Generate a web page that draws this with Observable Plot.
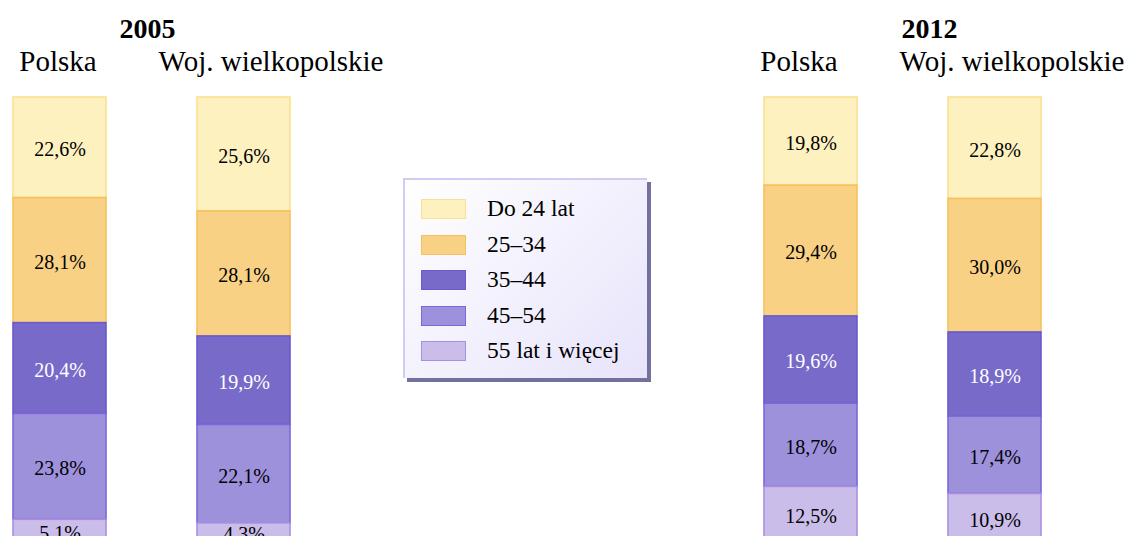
<!DOCTYPE html>
<html>
<head>
<meta charset="utf-8">
<script src="https://cdn.jsdelivr.net/npm/d3@7"></script>
<script src="https://cdn.jsdelivr.net/npm/@observablehq/plot@0.6"></script>
<style>
  html, body { margin: 0; padding: 0; background: #fff; overflow: hidden; }
  #wrap { position: relative; width: 1129px; height: 536px; font-family: 'Liberation Serif', serif; }
  #legend {
    position: absolute; left: 403px; top: 178px; width: 244px; height: 200px;
    border-top: 2px solid #cfcdf6; border-left: 2px solid #cfcdf6;
    box-shadow: 4px 4px 0 #72709f;
    background: linear-gradient(135deg, #ffffff 0%, #f3f1fd 50%, #e8e3fb 100%);
    box-sizing: border-box;
  }
  .item { position: absolute; left: 16px; height: 20px; display: flex; align-items: center; }
  .sw { width: 43px; height: 18px; border: 1px solid; box-sizing: content-box; }
  .lab { position: absolute; left: 66px; top: 50%; transform: translateY(-52%); font-size: 23.5px; white-space: nowrap; color: #000; font-family: 'Liberation Serif', serif; }
</style>
</head>
<body>
<div id="wrap"><div id="chart"></div><div id="legend"></div></div>
<script>
// ---- data ----
const years = ["2005", "2012"];
const regions = ["Polska", "Woj. wielkopolskie"];
const ages = ["Do 24 lat", "25–34", "35–44", "45–54", "55 lat i więcej"];
const polska2005 = [22.6, 28.1, 20.4, 23.8, 5.1];
const wlkp2005   = [25.6, 28.1, 19.9, 22.1, 4.3];
const polska2012 = [19.8, 29.4, 19.6, 18.7, 12.5];
const wlkp2012   = [22.8, 30.0, 18.9, 17.4, 10.9];

// ---- styles ----
const fills   = ["#fdf1bf", "#f9d185", "#786ac8", "#9e91dc", "#cbbde9"];
const strokes = ["#f9e193", "#f6c15c", "#6b59cf", "#7d66d6", "#a98fe0"];
const labelColors = ["#000", "#000", "#fff", "#000", "#000"];

const series = [
  {year: "2005", region: "Polska", values: polska2005},
  {year: "2005", region: "Woj. wielkopolskie", values: wlkp2005},
  {year: "2012", region: "Polska", values: polska2012},
  {year: "2012", region: "Woj. wielkopolskie", values: wlkp2012}
];
const rows = series.flatMap(s => s.values.map((v, i) => ({year: s.year, region: s.region, age: ages[i], ai: i, value: v})));
const fmt = v => v.toFixed(1).replace(".", ",") + "%";
const font = "Liberation Serif, serif";

const headers = series.map(s => ({year: s.year, region: s.region}));
const headerMark = (year, region, dx) => Plot.text(headers.filter(d => d.year === year && d.region === region), {
  fx: "year", x: "region", text: "region", frameAnchor: "top", lineAnchor: "bottom",
  dy: -27, dx, fontSize: 29, fontFamily: font, fill: "#000"
});
const yearMark = (year, dx) => Plot.text([{year}], {
  fx: "year", text: "year", frameAnchor: "top", lineAnchor: "bottom",
  dy: -60, dx, fontSize: 28, fontWeight: "bold", fontFamily: font, fill: "#000"
});

const chart = Plot.plot({
  width: 1129,
  height: 560,
  marginTop: 97,
  marginBottom: 18,
  marginLeft: 11,
  marginRight: 88,
  style: {fontFamily: font, background: "transparent", overflow: "visible"},
  fx: {domain: years, paddingInner: 0.63, paddingOuter: 0, axis: null},
  x: {domain: regions, paddingInner: 0.497, paddingOuter: 0, axis: null},
  y: {domain: [0, 100], reverse: true, axis: null},
  color: {type: "identity"},
  marks: [
    Plot.barY(rows, Plot.stackY({
      fx: "year", x: "region", y: "value", z: "age",
      fill: d => fills[d.ai], stroke: d => strokes[d.ai], strokeWidth: 1.6
    })),
    Plot.text(rows, Plot.stackY({
      fx: "year", x: "region", y: "value", z: "age",
      text: d => fmt(d.value), fill: d => labelColors[d.ai],
      fontSize: 20, fontFamily: font, lineAnchor: "middle", dy: 2
    })),
    headerMark("2005", "Polska", -2),
    headerMark("2005", "Woj. wielkopolskie", 27),
    headerMark("2012", "Polska", -12),
    headerMark("2012", "Woj. wielkopolskie", 17),
    yearMark("2005", -4),
    yearMark("2012", 27)
  ]
});
document.getElementById("chart").appendChild(chart);

// ---- legend ----
const legend = document.getElementById("legend");
ages.forEach((a, i) => {
  const it = document.createElement("div");
  it.className = "item";
  it.style.top = (19 + i * 35.6) + "px";
  const sw = document.createElement("div");
  sw.className = "sw";
  sw.style.background = fills[i];
  sw.style.borderColor = strokes[i];
  const lab = document.createElement("span");
  lab.className = "lab";
  lab.textContent = a;
  it.appendChild(sw);
  it.appendChild(lab);
  legend.appendChild(it);
});
</script>
</body>
</html>
